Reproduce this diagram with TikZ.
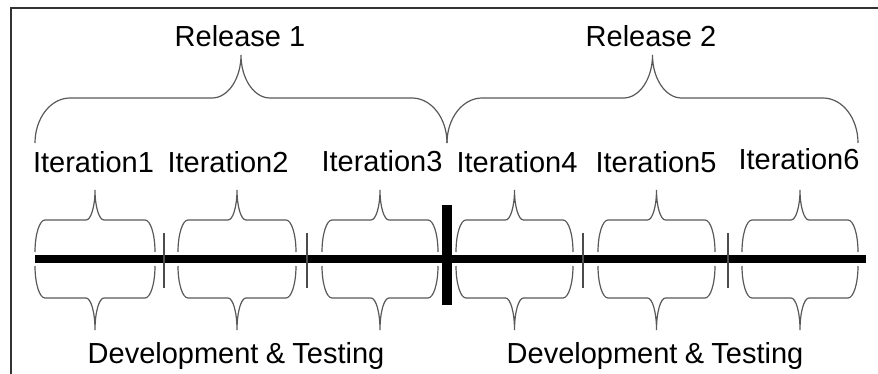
\documentclass[tikz,border=0pt]{standalone}
\usepackage{fontspec}
\setmainfont{Liberation Sans}
\tikzset{
  bracestyle/.style={draw=black!65, line width=1.2pt},
  lbl/.style={inner sep=0pt, anchor=base, font=\fontsize{29}{29}\selectfont},
  septhin/.style={draw=black!70, line width=1.5pt},
}
% x1 x2 yb yh yt re rt
\newcommand\curlyb[7]{%
 \draw[bracestyle] (#1,#3) .. controls (#1,{#3+0.552*(#4-#3)}) and ({#1+0.448*#6},#4) .. ({#1+#6},#4)
   -- ({(#1+#2)/2-#7},#4) .. controls ({(#1+#2)/2-0.448*#7},#4) and ({(#1+#2)/2},{#5+0.552*(#4-#5)}) .. ({(#1+#2)/2},#5)
   .. controls ({(#1+#2)/2},{#5+0.552*(#4-#5)}) and ({(#1+#2)/2+0.448*#7},#4) .. ({(#1+#2)/2+#7},#4)
   -- ({#2-#6},#4) .. controls ({#2-0.448*#6},#4) and (#2,{#3+0.552*(#4-#3)}) .. (#2,#3);}
\begin{document}
\begin{tikzpicture}[x=1pt,y=-1pt]
\useasboundingbox (0,0) rectangle (878,374);
\fill[white] (0,0) rectangle (878,374);
\draw[draw=black!80, line width=2pt] (11,8) rectangle (892,392);
% release braces
\curlyb{35}{447}{143}{98}{55}{35}{29}
\curlyb{447}{858}{143}{98}{55}{35}{29}
% iteration braces
\foreach \a/\b in {35/155,178/296,322/438,456/573,598/715,742/858}{
  \curlyb{\a}{\b}{252}{220}{190}{10}{9}
  \curlyb{\a}{\b}{266}{298}{330}{10}{9}
}
% main line
\coordinate (ls) at (35,259);
\coordinate (le) at (866,259);
\draw[line width=8pt] (ls) -- (le);
\draw[line width=10pt] (447,205) -- (447,305);
\foreach \x in {164,307,583,728}{\draw[septhin] (\x,233) -- (\x,288);}
% texts
\node[lbl] (r1) at (240,47) {Release 1};
\node[lbl] (r2) at (651,47) {Release 2};
\node[lbl] (i1) at (93.5,173) {Iteration1};
\node[lbl] (i2) at (228,173) {Iteration2};
\node[lbl] (i3) at (382,172) {Iteration3};
\node[lbl] (i4) at (517,173) {Iteration4};
\node[lbl] (i5) at (656,173) {Iteration5};
\node[lbl] (i6) at (799,170) {Iteration6};
\node[lbl] (d1) at (236,363) {Development\hspace{0.25em}\&\hspace{0.25em}Testing};
\node[lbl] (d2) at (655,363) {Development\hspace{0.25em}\&\hspace{0.25em}Testing};
\end{tikzpicture}
\end{document}
